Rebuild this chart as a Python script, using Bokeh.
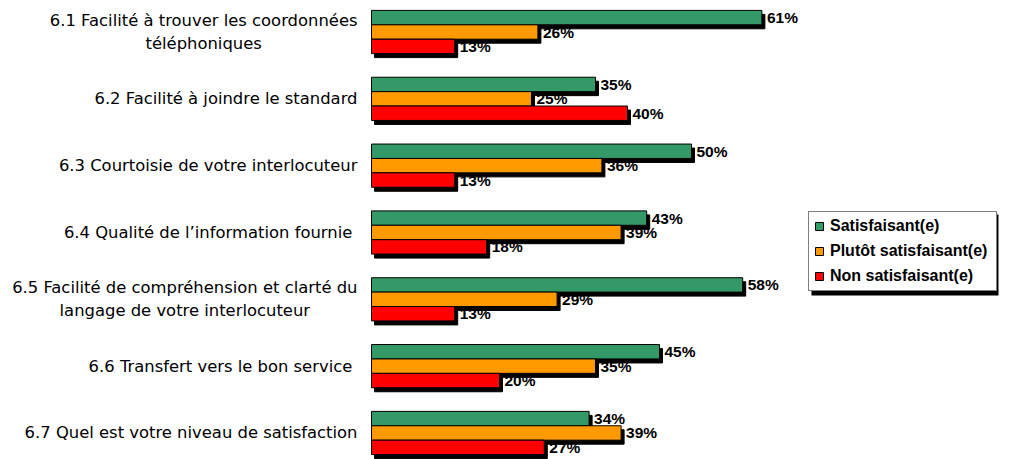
from bokeh.plotting import figure
from bokeh.models import Range1d, Legend, LegendItem, BoxAnnotation, ColumnDataSource
from bokeh.core.properties import value
from bokeh.embed import file_html
from bokeh.resources import INLINE

categories = [
    "6.1 Facilité à trouver les coordonnées\ntéléphoniques",
    "6.2 Facilité à joindre le standard",
    "6.3 Courtoisie de votre interlocuteur",
    "6.4 Qualité de l’information fournie ",
    "6.5 Facilité de compréhension et clarté du\nlangage de votre interlocuteur",
    "6.6 Transfert vers le bon service ",
    "6.7 Quel est votre niveau de satisfaction",
]
series_names = ["Satisfaisant(e)", "Plutôt satisfaisant(e)", "Non satisfaisant(e)"]
satisfaisant = [61, 35, 50, 43, 58, 45, 34]
plutot = [26, 25, 36, 39, 29, 35, 39]
non_satisfaisant = [13, 40, 13, 18, 13, 20, 27]
colors = ["#339966", "#FF9900", "#FF0000"]

# layout constants
W, H = 1030, 459
PX_PER_PCT = 6.4          # horizontal scale
PX_PER_CAT = 66.83        # vertical distance between groups
ORIGIN_PX = 371           # page x of the 0 % baseline
FIRST_CENTER_PX = 31.5    # page y of the first group's centre
X_MIN = -ORIGIN_PX / PX_PER_PCT
X_MAX = (W - ORIGIN_PX) / PX_PER_PCT

n = len(categories)
Y_MAX = (n - 1) + FIRST_CENTER_PX / PX_PER_CAT
Y_MIN = Y_MAX - H / PX_PER_CAT
BAR_H = 14.4 / PX_PER_CAT
SHADOW_DX = 3 / PX_PER_PCT
SHADOW_DY = 4 / PX_PER_CAT

ypos = [n - 1 - i for i in range(n)]
series = [satisfaisant, plutot, non_satisfaisant]
offsets = [BAR_H, 0.0, -BAR_H]

p = figure(width=W, height=H, output_backend="svg", toolbar_location=None,
           x_range=Range1d(X_MIN, X_MAX), y_range=Range1d(Y_MIN, Y_MAX),
           min_border_left=0, min_border_right=0, min_border_top=0, min_border_bottom=0)
p.xaxis.visible = False
p.yaxis.visible = False
p.grid.visible = False
p.outline_line_color = None

sources = []
for vals, off in zip(series, offsets):
    ys = [yy + off for yy in ypos]
    sources.append(ColumnDataSource(dict(
        y=ys, v=vals, lab=[f"{v}%" for v in vals],
        sy=[yy - SHADOW_DY for yy in ys],
        sl=[SHADOW_DX] * len(vals),
        sr=[v + SHADOW_DX for v in vals],
    )))

# category labels, right-anchored at the baseline, lines centred
cat_src = ColumnDataSource(dict(y=ypos, x=[0] * n, t=categories))
p.text(x="x", y="y", text="t", source=cat_src, x_offset=-14,
       anchor="center_right", text_align="center", text_baseline="middle",
       text_font=value("DejaVu Sans"), text_font_size="16.4px",
       text_line_height=1.22, text_color="black")

# value labels (drawn under the bars)
for src in sources:
    p.text(x="v", y="y", text="lab", source=src, x_offset=5,
           text_baseline="middle", text_align="left",
           text_font=value("Liberation Sans"), text_font_style="bold",
           text_font_size="15.5px", text_color="black")

# shadows
for src in sources:
    p.hbar(y="sy", left="sl", right="sr", height=BAR_H, source=src,
           fill_color="black", line_color="black")

# bars
renderers = []
for src, c in zip(sources, colors):
    r = p.hbar(y="y", left=0, right="v", height=BAR_H, source=src,
               fill_color=c, line_color="black", line_width=1)
    renderers.append(r)

# legend shadow + legend
LEG_X, LEG_Y, LEG_W, LEG_H = 808, 168, 187, 81
shadow = BoxAnnotation(left=LEG_X + 3, right=LEG_X + 3 + LEG_W, bottom=LEG_Y - 4, top=LEG_Y - 4 + LEG_H,
                       left_units="screen", right_units="screen",
                       bottom_units="screen", top_units="screen",
                       fill_color="black", fill_alpha=1.0, line_color=None)
p.add_layout(shadow)

legend = Legend(items=[LegendItem(label=nm, renderers=[r]) for nm, r in zip(series_names, renderers)],
                location=(LEG_X, LEG_Y), padding=5, spacing=7, margin=0,
                glyph_width=10, glyph_height=10, label_standoff=6, label_width=161,
                label_text_font="Liberation Sans", label_text_font_style="bold",
                label_text_font_size="16px", label_text_color="black",
                border_line_color="black", border_line_width=1,
                background_fill_color="white", background_fill_alpha=1.0)
p.add_layout(legend)

open("out.html", "w").write(file_html(p, INLINE))
